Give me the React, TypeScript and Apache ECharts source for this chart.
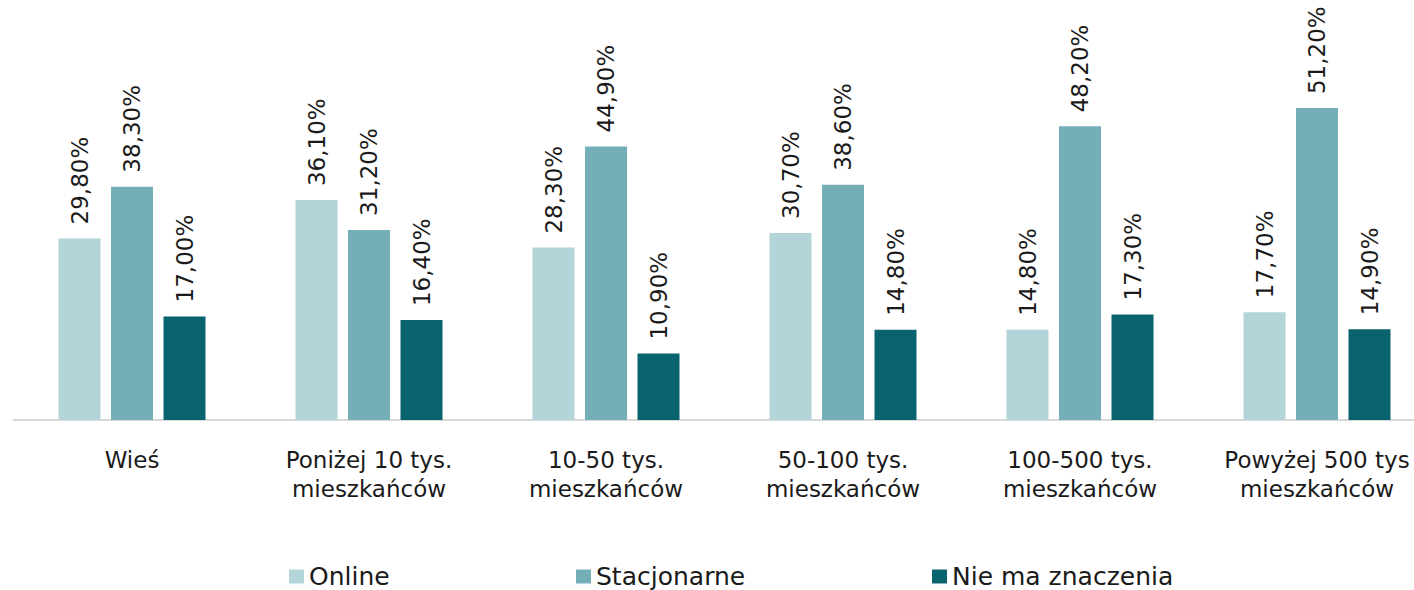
import React, { useEffect, useRef } from "react";
import * as echarts from "echarts";

const categories = [
  "Wieś",
  "Poniżej 10 tys.\nmieszkańców",
  "10-50 tys.\nmieszkańców",
  "50-100 tys.\nmieszkańców",
  "100-500 tys.\nmieszkańców",
  "Powyżej 500 tys\nmieszkańców",
];
const seriesNames = ["Online", "Stacjonarne", "Nie ma znaczenia"];
const online = [29.8, 36.1, 28.3, 30.7, 14.8, 17.7];
const stacjonarne = [38.3, 31.2, 44.9, 38.6, 48.2, 51.2];
const nieMa = [17.0, 16.4, 10.9, 14.8, 17.3, 14.9];
const colors = ["#b3d4d8", "#74afb7", "#08636e"];

const FONT = "DejaVu Sans";

export default function App() {
  const ref = useRef<HTMLDivElement>(null);
  useEffect(() => {
    if (!ref.current) return;
    const chart = echarts.init(ref.current, undefined, { renderer: "svg" });
    const values = [online, stacjonarne, nieMa];
    const legendLefts = [289, 576, 932];
    chart.setOption({
      animation: false,
      grid: {
        left: 13.5,
        width: 1422,
        top: 54.4,
        height: 365.6,
        containLabel: false,
        outerBoundsMode: "none",
      },
      legend: seriesNames.map((n, i) => ({
        data: [n],
        left: legendLefts[i],
        top: 564,
        itemWidth: 15,
        itemHeight: 14,
        itemGap: 4,
        icon: "rect",
        padding: 0,
        textStyle: { fontFamily: FONT, fontSize: 25, color: "#1a1a1a", padding: [0, 0, 0, 0] },
      })),
      xAxis: {
        type: "category",
        data: categories,
        axisLine: { lineStyle: { color: "#d9d9d9", width: 2 } },
        axisTick: { show: false },
        axisLabel: {
          interval: 0,
          margin: 25,
          fontFamily: FONT,
          fontSize: 23,
          lineHeight: 29,
          color: "#1a1a1a",
        },
      },
      yAxis: {
        type: "value",
        min: 0,
        max: 60,
        show: false,
        splitLine: { show: false },
      },
      series: seriesNames.map((n, i) => ({
        name: n,
        type: "bar",
        data: values[i],
        barWidth: 42,
        barGap: "25%",
        itemStyle: { color: colors[i] },
        label: {
          show: true,
          position: "top",
          rotate: 90,
          align: "left",
          verticalAlign: "middle",
          distance: 14,
          fontFamily: FONT,
          fontSize: 23,
          color: "#1a1a1a",
          formatter: (p: any) => p.value.toFixed(2).replace(".", ",") + "%",
        },
      })),
    });
    return () => chart.dispose();
  }, []);
  return <div ref={ref} style={{ width: 1414, height: 590, position: "absolute", left: 0, top: 0 }} />;
}
